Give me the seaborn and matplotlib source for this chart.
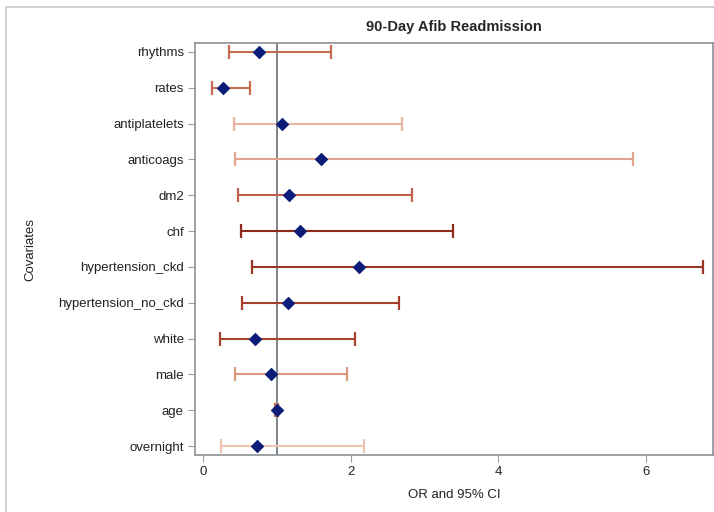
import numpy as np
import pandas as pd
import matplotlib
matplotlib.use('Agg')
import matplotlib.pyplot as plt
import seaborn as sns
from matplotlib.lines import Line2D

# 共変量ごとのオッズ比と95%信頼区間
covariates = ['rhythms', 'rates', 'antiplatelets', 'anticoags', 'dm2', 'chf',
              'hypertension_ckd', 'hypertension_no_ckd', 'white', 'male', 'age', 'overnight']
odds_ratio = [0.76, 0.27, 1.07, 1.60, 1.17, 1.31, 2.11, 1.15, 0.71, 0.92, 1.00, 0.73]
ci_lower = [0.35, 0.12, 0.42, 0.44, 0.47, 0.52, 0.67, 0.53, 0.23, 0.44, 0.98, 0.24]
ci_upper = [1.73, 0.64, 2.70, 5.83, 2.83, 3.39, 6.78, 2.66, 2.06, 1.95, 1.02, 2.18]

# 信頼区間の線の色（行ごとの濃淡）
ci_colors = ['#c76a52', '#c76a52', '#e8b5a2', '#e2a48e', '#c0604a', '#8e2c1c',
             '#9c3626', '#a5402c', '#a8432e', '#dc987f', '#c76a52', '#efc4b3']

df = pd.DataFrame({'covariate': covariates, 'or': odds_ratio,
                   'lower': ci_lower, 'upper': ci_upper})

sns.set_style('white')
plt.rcParams['font.family'] = ['Liberation Sans', 'DejaVu Sans']

fig = plt.figure(figsize=(7.14, 5.12), dpi=100)
ax = fig.add_axes([0.2731, 0.1113, 0.7255, 0.8047])

# 外枠
fig.add_artist(Line2D([6 / 714, 6 / 714], [0, 1 - 7 / 512], transform=fig.transFigure,
                      color='#c8c8c8', lw=1.2))
fig.add_artist(Line2D([6 / 714, 1], [1 - 7 / 512, 1 - 7 / 512], transform=fig.transFigure,
                      color='#c8c8c8', lw=1.2))

ypos = np.arange(len(df))

# 信頼区間
for i, row in df.iterrows():
    ax.errorbar(row['or'], ypos[i],
                xerr=[[row['or'] - row['lower']], [row['upper'] - row['or']]],
                fmt='none', ecolor=ci_colors[i], elinewidth=1.5,
                capsize=5, capthick=1.6, zorder=2)

# 基準線 OR = 1
ax.axvline(1, color='#7d858a', lw=1.4, zorder=1)

# 点推定値
sns.scatterplot(data=df, x='or', y=ypos, marker='D', s=38, color='#0b1d78',
                edgecolor='#0b1d78', linewidth=0.8, ax=ax, zorder=3)

ax.set_xlim(-0.108, 6.91)
ax.set_ylim(11.25, -0.25)
ax.set_yticks(ypos)
ax.set_yticklabels(covariates)
ax.set_xticks([0, 2, 4, 6])

for s in ax.spines.values():
    s.set_color('#8a9196')
    s.set_linewidth(1.2)

ax.tick_params(axis='both', which='both', length=5, width=0.8, color='#9aa0a4',
               labelsize=9.5, labelcolor='#222222', direction='out', pad=3)
ax.xaxis.set_ticks_position('bottom')
ax.yaxis.set_ticks_position('left')

ax.set_xlabel('OR and 95% CI', fontsize=9.5, color='#222222', labelpad=8)
ax.set_ylabel('Covariates', fontsize=9.5, color='#222222', labelpad=16)
ax.set_title('90-Day Afib Readmission', fontsize=10.5, fontweight='bold', pad=9)

fig.savefig('out.png', dpi=100)
